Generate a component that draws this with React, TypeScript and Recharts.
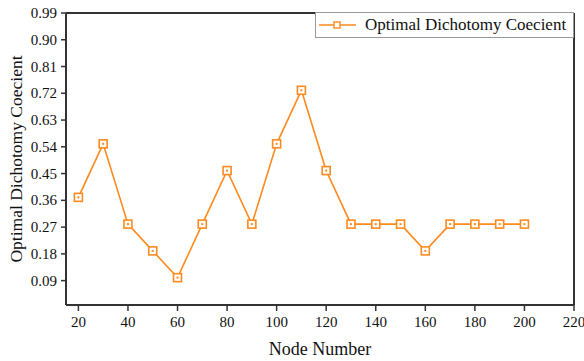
import React from "react";
import {
  LineChart,
  Line,
  XAxis,
  YAxis,
  ReferenceLine,
} from "recharts";

const nodeNumbers = [20, 30, 40, 50, 60, 70, 80, 90, 100, 110, 120, 130, 140, 150, 160, 170, 180, 190, 200];
const coefficients = [0.37, 0.55, 0.28, 0.19, 0.1, 0.28, 0.46, 0.28, 0.55, 0.73, 0.46, 0.28, 0.28, 0.28, 0.19, 0.28, 0.28, 0.28, 0.28];
const xTicks = [20, 40, 60, 80, 100, 120, 140, 160, 180, 200, 220];
const xMinorTicks = [30, 50, 70, 90, 110, 130, 150, 170, 190, 210];
const yTicks = [0.09, 0.18, 0.27, 0.36, 0.45, 0.54, 0.63, 0.72, 0.81, 0.9, 0.99];
const yMinorTicks = [0.045, 0.135, 0.225, 0.315, 0.405, 0.495, 0.585, 0.675, 0.765, 0.855, 0.945];

const seriesName = "Optimal Dichotomy Coecient";
const orange = "#ff8a1f";
const axisColor = "#333";
const font = "Liberation Serif, serif";

const data = nodeNumbers.map((n, i) => ({ node: n, value: coefficients[i] }));

const SquareDot = (props: any) => {
  const { cx, cy } = props;
  if (cx == null || cy == null) return null;
  return (
    <g>
      <rect x={cx - 4} y={cy - 4} width={8} height={8} fill="#fff" stroke={orange} strokeWidth={1.6} />
      <rect x={cx - 1} y={cy - 1} width={2} height={2} fill={orange} />
    </g>
  );
};

const XTick = (props: any) => {
  const { x, y, payload } = props;
  return (
    <text x={x} y={y + 12} textAnchor="middle" fontFamily={font} fontSize={15} fill="#111">
      {payload.value}
    </text>
  );
};

const YTick = (props: any) => {
  const { x, y, payload } = props;
  return (
    <text x={x} y={y + 5} textAnchor="end" fontFamily={font} fontSize={15} fill="#111">
      {Number(payload.value).toFixed(2)}
    </text>
  );
};

const LegendBox = () => (
  <div
    style={{
      position: "absolute",
      left: 315,
      top: 12,
      width: 259,
      border: "1px solid #999",
      height: 26,
      display: "flex",
      alignItems: "center",
      background: "#fff",
      fontFamily: font,
      fontSize: 17,
      color: "#111",
      boxSizing: "border-box",
    }}
  >
    <svg width={42} height={12} style={{ marginLeft: 2, marginRight: 5 }}>
      <line x1={1} y1={6} x2={38} y2={6} stroke={orange} strokeWidth={1.6} />
      <rect x={16} y={3} width={6} height={6} fill="#fff" stroke={orange} strokeWidth={1.4} />
    </svg>
    <span>{seriesName}</span>
  </div>
);

export default function App() {
  return (
    <div style={{ position: "absolute", left: 0, top: 0, width: 584, height: 361, background: "#fff", fontFamily: font }}>
      <LineChart width={584} height={361} data={data} margin={{ top: 13, right: 10, bottom: 0, left: 0 }}>
        <XAxis
          xAxisId="minor"
          dataKey="node"
          type="number"
          domain={[15, 220]}
          ticks={xMinorTicks}
          tick={false}
          tickSize={3}
          tickLine={{ stroke: axisColor, strokeWidth: 1.5 }}
          axisLine={false}
          height={1}
        />
        <XAxis
          dataKey="node"
          type="number"
          domain={[15, 220]}
          ticks={xTicks}
          interval={0}
          tickSize={6}
          tickMargin={4}
          tick={<XTick />}
          tickLine={{ stroke: axisColor, strokeWidth: 1.5 }}
          axisLine={{ stroke: axisColor, strokeWidth: 2 }}
          height={55}
          label={{ value: "Node Number", position: "insideBottom", offset: 5, style: { fontFamily: font, fontSize: 18, fill: "#111" } }}
        />
        <YAxis
          yAxisId="minor"
          type="number"
          domain={[0.008, 0.99]}
          ticks={yMinorTicks}
          tick={false}
          tickSize={3}
          tickLine={{ stroke: axisColor, strokeWidth: 1.5 }}
          axisLine={false}
          width={0}
        />
        <YAxis
          type="number"
          domain={[0.008, 0.99]}
          ticks={yTicks}
          interval={0}
          tickSize={5}
          tickMargin={4}
          tick={<YTick />}
          tickLine={{ stroke: axisColor, strokeWidth: 1.5 }}
          axisLine={{ stroke: axisColor, strokeWidth: 2 }}
          width={66}
          allowDataOverflow
          label={{
            value: "Optimal Dichotomy Coecient",
            angle: -90,
            position: "insideLeft",
            offset: 16,
            style: { fontFamily: font, fontSize: 17.5, fill: "#111", textAnchor: "middle" },
          }}
        />
        <ReferenceLine y={0.99} stroke={axisColor} strokeWidth={2} />
        <ReferenceLine x={220} stroke={axisColor} strokeWidth={2} />
        <Line
          dataKey="value"
          name={seriesName}
          stroke={orange}
          strokeWidth={1.6}
          dot={<SquareDot />}
          activeDot={false}
          isAnimationActive={false}
        />
      </LineChart>
      <LegendBox />
    </div>
  );
}
